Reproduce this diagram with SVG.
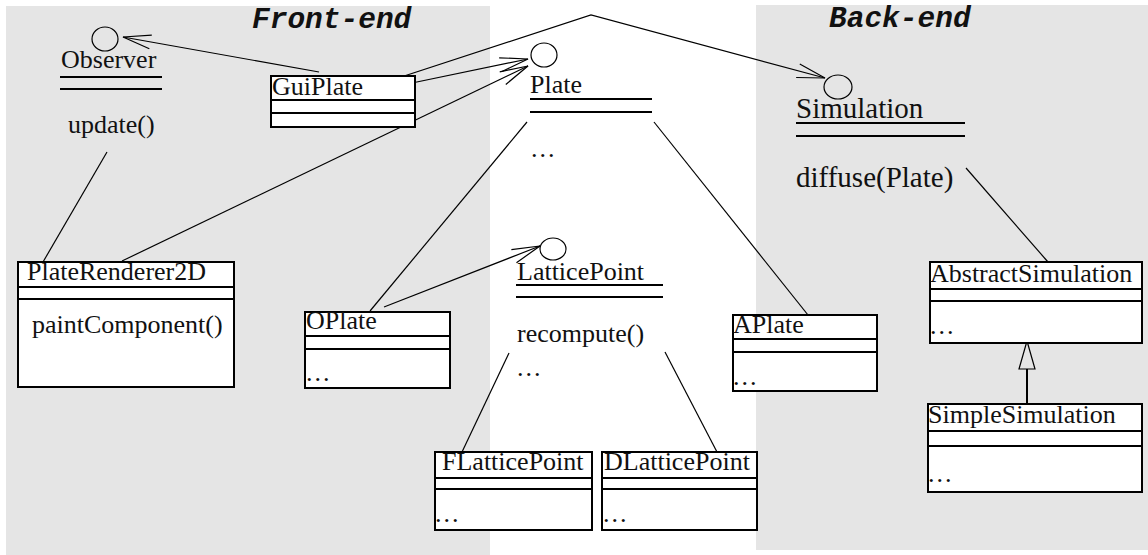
<svg xmlns="http://www.w3.org/2000/svg" width="1148" height="555" viewBox="0 0 1148 555">
<style>
.t{font-family:"Liberation Serif","Times New Roman",serif;font-size:26px;fill:#111}
.big{font-size:29px}
.hdr{font-family:"Liberation Mono","Courier New",monospace;font-size:29.5px;font-weight:bold;font-style:italic;fill:#111}
.box{fill:#fff;stroke:#000;stroke-width:2}
.div{stroke:#000;stroke-width:2}
.ul{stroke:#000;stroke-width:2}
.ic{fill:none;stroke:#000;stroke-width:1.2}
.c{fill:none;stroke:#000;stroke-width:1.2}
.dots{letter-spacing:2px}
</style>
<defs>
<marker id="open" viewBox="-30 -10 32 20" refX="0" refY="0" markerWidth="32" markerHeight="20" markerUnits="userSpaceOnUse" orient="auto" overflow="visible">
<path d="M-28,-7 L0,0 L-28,7" fill="none" stroke="#000" stroke-width="1.2"/>
</marker>
</defs>
<rect x="6" y="6" width="484" height="549" fill="#e5e5e5"/>
<rect x="756" y="5" width="392" height="545" fill="#e5e5e5"/>
<text class="hdr" x="252" y="28">Front-end</text>
<text class="hdr" x="829" y="27">Back-end</text>
<g id="connectors">
<line class="c" x1="319" y1="72" x2="123" y2="37" marker-end="url(#open)"/>
<polyline class="c" points="395,79 591,15 825,78" marker-end="url(#open)"/>
<line class="c" x1="412" y1="83" x2="528" y2="59" marker-end="url(#open)"/>
<line class="c" x1="122" y1="261" x2="528" y2="66" marker-end="url(#open)"/>
<line class="c" x1="384" y1="307" x2="540" y2="246" marker-end="url(#open)"/>
<line class="c" x1="107" y1="152" x2="43" y2="262"/>
<line class="c" x1="527" y1="122" x2="370" y2="311"/>
<line class="c" x1="654" y1="122" x2="808" y2="315"/>
<line class="c" x1="966" y1="168" x2="1048" y2="262"/>
<line class="c" x1="509" y1="353" x2="462" y2="452"/>
<line class="c" x1="665" y1="352" x2="717" y2="452"/>
<line x1="1027" y1="404" x2="1027" y2="369" stroke="#000" stroke-width="2"/>
<polygon points="1027,341 1019,369 1035,369" fill="none" stroke="#000" stroke-width="1.2"/>
</g>
<g id="Observer">
<ellipse class="ic" cx="105" cy="39" rx="13" ry="12"/>
<text class="t" x="61" y="68">Observer</text>
<line class="ul" x1="60" y1="77" x2="162" y2="77"/>
<line class="ul" x1="60" y1="89" x2="162" y2="89"/>
<text class="t" x="68" y="133">update()</text>
</g>
<g id="GuiPlate">
<rect class="box" x="271" y="76" width="144" height="51"/>
<line class="div" x1="271" y1="100" x2="415" y2="100"/>
<line class="div" x1="271" y1="113" x2="415" y2="113"/>
<text class="t" x="272" y="95">GuiPlate</text>
</g>
<g id="Plate">
<ellipse class="ic" cx="544" cy="55" rx="13" ry="12"/>
<text class="t" x="530" y="93">Plate</text>
<line class="ul" x1="530" y1="99" x2="652" y2="99"/>
<line class="ul" x1="530" y1="112" x2="652" y2="112"/>
<text class="t dots" x="531" y="157">...</text>
</g>
<g id="Simulation">
<ellipse class="ic" cx="838" cy="87" rx="14" ry="12"/>
<text class="t big" x="796" y="118">Simulation</text>
<line class="ul" x1="796" y1="123" x2="965" y2="123"/>
<line class="ul" x1="796" y1="136" x2="965" y2="136"/>
<text class="t big" x="796" y="187">diffuse(Plate)</text>
</g>
<g id="PlateRenderer2D">
<rect class="box" x="18" y="262" width="216" height="125"/>
<line class="div" x1="18" y1="287" x2="234" y2="287"/>
<line class="div" x1="18" y1="299" x2="234" y2="299"/>
<text class="t" x="27" y="280">PlateRenderer2D</text>
<text class="t" x="32" y="333">paintComponent()</text>
</g>
<g id="OPlate">
<rect class="box" x="305" y="312" width="145" height="76"/>
<line class="div" x1="305" y1="336" x2="450" y2="336"/>
<line class="div" x1="305" y1="349" x2="450" y2="349"/>
<text class="t" x="306" y="329">OPlate</text>
<text class="t dots" x="306" y="381">...</text>
</g>
<g id="LatticePoint">
<ellipse class="ic" cx="553" cy="249" rx="13" ry="11"/>
<text class="t" x="517" y="280">LatticePoint</text>
<line class="ul" x1="516" y1="285" x2="663" y2="285"/>
<line class="ul" x1="516" y1="297" x2="663" y2="297"/>
<text class="t" x="517" y="342">recompute()</text>
<text class="t dots" x="517" y="376">...</text>
</g>
<g id="APlate">
<rect class="box" x="733" y="315" width="144" height="76"/>
<line class="div" x1="733" y1="339" x2="877" y2="339"/>
<line class="div" x1="733" y1="352" x2="877" y2="352"/>
<text class="t" x="733" y="333">APlate</text>
<text class="t dots" x="733" y="385">...</text>
</g>
<g id="FLatticePoint">
<rect class="box" x="435" y="452" width="157" height="78"/>
<line class="div" x1="435" y1="478" x2="592" y2="478"/>
<line class="div" x1="435" y1="489" x2="592" y2="489"/>
<text class="t" x="442" y="470">FLatticePoint</text>
<text class="t dots" x="435" y="522">...</text>
</g>
<g id="DLatticePoint">
<rect class="box" x="602" y="452" width="155" height="78"/>
<line class="div" x1="602" y1="478" x2="757" y2="478"/>
<line class="div" x1="602" y1="489" x2="757" y2="489"/>
<text class="t" x="604" y="470">DLatticePoint</text>
<text class="t dots" x="603" y="522">...</text>
</g>
<g id="AbstractSimulation">
<rect class="box" x="930" y="262" width="212" height="81"/>
<line class="div" x1="930" y1="289" x2="1142" y2="289"/>
<line class="div" x1="930" y1="301" x2="1142" y2="301"/>
<text class="t" x="930" y="282">AbstractSimulation</text>
<text class="t dots" x="930" y="334">...</text>
</g>
<g id="SimpleSimulation">
<rect class="box" x="928" y="404" width="214" height="88"/>
<line class="div" x1="928" y1="431" x2="1142" y2="431"/>
<line class="div" x1="928" y1="446" x2="1142" y2="446"/>
<text class="t" x="928" y="423">SimpleSimulation</text>
<text class="t dots" x="928" y="482">...</text>
</g>
</svg>
